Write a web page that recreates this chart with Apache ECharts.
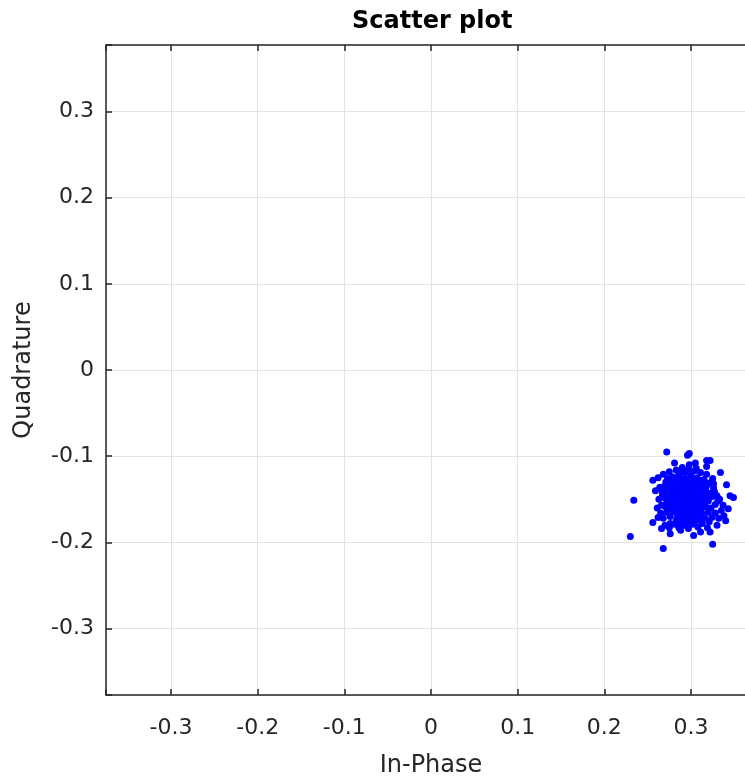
<!DOCTYPE html>
<html>
<head>
<meta charset="utf-8">
<script src="https://cdn.jsdelivr.net/npm/echarts@6/dist/echarts.min.js"></script>
<style>
html,body{margin:0;padding:0;background:#fff;overflow:hidden;}
#chart{width:745px;height:779px;}
</style>
</head>
<body>
<div id="chart"></div>
<script>
// Axis text
var chartTitle = 'Scatter plot';
var xAxisName = 'In-Phase';
var yAxisName = 'Quadrature';
var xRange = [-0.375, 0.375];
var yRange = [-0.377, 0.377];

// Received symbols, In-Phase component (row by row)
var inPhase = [
  // upper band
  0.262,0.268,0.271,0.275,0.279,0.283,0.286,0.290,0.293,0.297,0.300,0.304,0.307,0.311,0.315,0.318,0.321,0.325,
  0.264,0.267,0.270,0.273,0.276,0.279,0.282,0.285,0.288,0.291,0.294,0.297,0.300,0.303,0.306,0.309,0.312,0.315,0.318,0.322,0.326,0.330,
  // middle band
  0.263,0.266,0.269,0.272,0.275,0.278,0.281,0.284,0.287,0.290,0.293,0.296,0.299,0.302,0.305,0.308,0.311,0.314,0.317,0.320,0.324,0.328,0.333,0.337,
  // lower band
  0.265,0.268,0.272,0.276,0.280,0.283,0.286,0.289,0.292,0.295,0.298,0.301,0.304,0.307,0.310,0.313,0.316,0.320,0.324,0.328,0.332,
  0.270,0.275,0.281,0.286,0.292,0.297,0.302,0.308,0.313,0.319,
  // dense centre
  0.285,0.288,0.291,0.294,0.296,0.298,0.300,0.302,0.304,0.306,0.308,0.310,0.289,0.292,0.295,0.297,0.301,0.303,0.287,0.283,
  0.280,0.277,0.274,0.312,0.315,0.299,0.294,0.290,0.305,0.284,0.281,0.278,0.309,0.312,0.296,0.287,0.300,0.277,0.273,0.269,
  0.323,0.326,0.319,0.293,
  0.278,0.282,0.286,0.291,0.295,0.299,0.303,0.307,0.311,0.316,0.281,0.285,0.289,0.293,0.297,0.301,0.305,0.309,0.313,0.317,
  0.279,0.283,0.287,0.291,0.295,0.299,0.303,0.307,0.311,0.315,0.284,0.288,0.292,0.296,0.300,0.304,0.308,0.276,0.271,0.267,
  0.327,0.331,0.335,0.321,0.318,0.289,0.298,0.306,
  // edge points and outliers
  0.272,0.296,0.298,0.318,0.322,0.234,0.230,0.268,0.325,0.256,0.256,0.266,0.334,0.341,0.349,0.343,0.338,0.330,0.322,0.276,
  0.288,0.303,0.345,0.340,0.259,0.261,0.281,0.305,0.311,0.262
];

// Received symbols, Quadrature component (same order)
var quadrature = [
  -0.125,-0.121,-0.130,-0.118,-0.124,-0.116,-0.121,-0.113,-0.119,-0.115,-0.122,-0.117,-0.125,-0.119,-0.127,-0.121,-0.131,-0.126,
  -0.136,-0.141,-0.134,-0.145,-0.138,-0.132,-0.143,-0.136,-0.129,-0.140,-0.133,-0.127,-0.138,-0.131,-0.142,-0.135,-0.129,-0.140,-0.134,-0.143,-0.137,-0.146,
  -0.150,-0.157,-0.148,-0.154,-0.161,-0.151,-0.146,-0.156,-0.149,-0.160,-0.145,-0.153,-0.147,-0.158,-0.150,-0.144,-0.155,-0.148,-0.159,-0.152,-0.147,-0.156,-0.150,-0.157,
  -0.166,-0.172,-0.165,-0.170,-0.164,-0.175,-0.167,-0.172,-0.163,-0.169,-0.176,-0.165,-0.171,-0.163,-0.174,-0.167,-0.172,-0.165,-0.171,-0.166,-0.172,
  -0.180,-0.183,-0.179,-0.183,-0.180,-0.184,-0.179,-0.182,-0.178,-0.183,
  -0.140,-0.146,-0.151,-0.138,-0.143,-0.158,-0.152,-0.144,-0.139,-0.155,-0.149,-0.141,-0.155,-0.134,-0.160,-0.137,-0.162,-0.127,-0.124,-0.150,
  -0.139,-0.144,-0.152,-0.161,-0.133,-0.131,-0.126,-0.166,-0.168,-0.160,-0.128,-0.157,-0.128,-0.137,-0.164,-0.169,-0.173,-0.132,-0.126,-0.140,
  -0.160,-0.132,-0.145,-0.177,
  -0.131,-0.135,-0.129,-0.133,-0.130,-0.134,-0.136,-0.132,-0.146,-0.150,-0.142,-0.147,-0.137,-0.148,-0.141,-0.145,-0.140,-0.153,-0.139,-0.137,
  -0.162,-0.164,-0.158,-0.156,-0.149,-0.163,-0.156,-0.160,-0.164,-0.157,-0.171,-0.177,-0.169,-0.173,-0.168,-0.176,-0.170,-0.178,-0.159,-0.145,
  -0.141,-0.152,-0.163,-0.176,-0.112,-0.117,-0.110,-0.114,
  -0.095,-0.099,-0.097,-0.105,-0.105,-0.151,-0.193,-0.207,-0.202,-0.128,-0.177,-0.184,-0.119,-0.133,-0.148,-0.161,-0.169,-0.180,-0.188,-0.190,
  -0.186,-0.192,-0.146,-0.175,-0.140,-0.160,-0.108,-0.108,-0.188,-0.171
];

var points = inPhase.map(function (v, i) { return [v, quadrature[i]]; });

var textColor = '#262626';
var fontFam = '"DejaVu Sans", sans-serif';

function tickFmt(v) {
  var t = Math.round(v * 10);
  if (Math.abs(v * 10 - t) > 1e-6) return '';
  return t === 0 ? '0' : (t / 10).toFixed(1);
}

var chart = echarts.init(document.getElementById('chart'), null, {renderer: 'canvas'});

var baseAxis = {
  type: 'value',
  splitNumber: 8,
  axisLine: {show: true, onZero: false, lineStyle: {color: textColor, width: 1.5}},
  axisTick: {show: true, inside: true, length: 6, lineStyle: {color: textColor, width: 1.5}},
  splitLine: {show: true, lineStyle: {color: '#e3e3e3', width: 1}},
  axisLabel: {show: true, color: textColor, fontSize: 22, fontFamily: fontFam, formatter: tickFmt}
};

function mk(extra) { return echarts.util.merge(echarts.util.clone(baseAxis), extra, true); }

chart.setOption({
  animation: false,
  backgroundColor: '#ffffff',
  title: {
    text: chartTitle,
    left: 347,
    top: 5,
    textStyle: {fontSize: 24, fontWeight: 'bold', color: '#000', fontFamily: fontFam}
  },
  grid: {left: 106, width: 650, top: 45, height: 650, containLabel: false, outerBoundsMode: 'none'},
  xAxis: [
    mk({position: 'bottom', min: xRange[0], max: xRange[1], name: xAxisName, nameLocation: 'middle', nameGap: 59,
        nameTextStyle: {fontSize: 24, color: textColor, fontFamily: fontFam},
        axisLabel: {margin: 22}}),
    mk({position: 'top', min: xRange[0], max: xRange[1], axisLabel: {show: false}, splitLine: {show: false}})
  ],
  yAxis: [
    mk({position: 'left', min: yRange[0], max: yRange[1], name: yAxisName, nameLocation: 'middle', nameGap: 70,
        nameTextStyle: {fontSize: 24, color: textColor, fontFamily: fontFam},
        axisLabel: {margin: 12}}),
    mk({position: 'right', min: yRange[0], max: yRange[1], axisLabel: {show: false}, splitLine: {show: false}})
  ],
  series: [{
    type: 'scatter',
    xAxisIndex: 0,
    yAxisIndex: 0,
    symbol: 'circle',
    symbolSize: 7,
    itemStyle: {color: '#0000ff', opacity: 1},
    data: points
  }]
});
</script>
</body>
</html>
